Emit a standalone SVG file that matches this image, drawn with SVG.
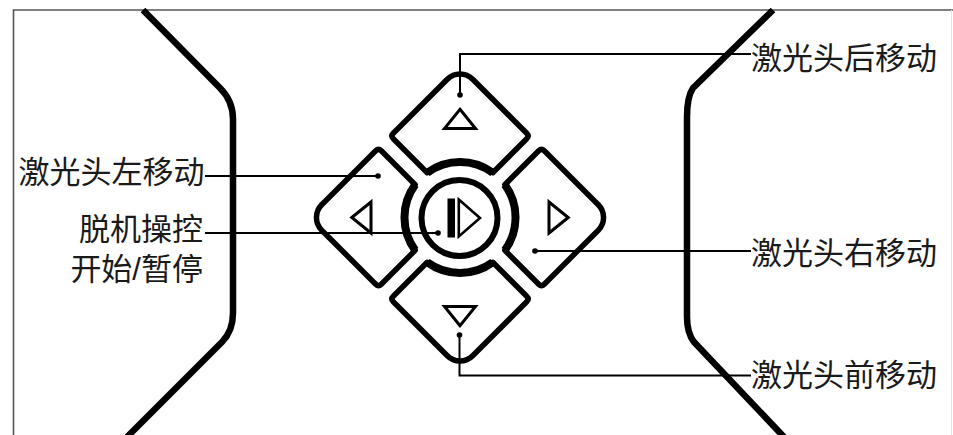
<svg xmlns="http://www.w3.org/2000/svg" width="953" height="435" viewBox="0 0 953 435">
<style>
.frame{fill:none;stroke:#555;stroke-width:1.6}
.body{fill:none;stroke:#000;stroke-width:6.5;stroke-linejoin:round}
.btn{fill:#fff;stroke:#000;stroke-width:5.5;stroke-linejoin:round}
.arrow{fill:none;stroke:#000;stroke-width:3;stroke-linejoin:miter}
.ring{fill:#fff;stroke:#000;stroke-width:6}
.lead{fill:none;stroke:#000;stroke-width:2}
.dot{fill:#000}
.lbl{font-family:"Liberation Sans","Noto Sans CJK SC",sans-serif;font-size:31px;fill:#1a1a1a}
</style>
<defs>
<g id="btnShape">
<path class="btn" d="M -32.8 -44.8 A 55.5 55.5 0 0 1 32.8 -44.8 L 66.7 -78.7 Q 69.5 -81.5 66.7 -84.3 L 12.7 -138.3 A 18 18 0 0 0 -12.7 -138.3 L -66.7 -84.3 Q -69.5 -81.5 -66.7 -78.7 Z"/>
<path fill="none" stroke="#000" stroke-width="8" d="M -32.8 -44.8 A 55.5 55.5 0 0 1 32.8 -44.8"/>
<path class="arrow" d="M 0 -108.2 L 15.5 -89 L -15.5 -89 Z"/>
</g>
</defs>
<rect width="953" height="435" fill="#fff"/>
<g id="frame">
<path class="frame" d="M13.5 435 V10 H953"/>
<path fill="none" stroke="#e3e3e3" stroke-width="1" d="M951.5 10 V435"/>
</g>
<g id="body-left"><path class="body" d="M143 10 L220 88 Q233 101 233 119 V313 Q233 331 222 342 L127 437"/></g>
<g id="body-right"><path class="body" d="M773 10 L693 88 Q687 97 687 117 V317 Q687 333 694 342 L784 437"/></g>
<g id="btn-up" transform="translate(460 217.5)"><use href="#btnShape"/></g>
<g id="btn-right" transform="translate(460 217.5) rotate(90)"><use href="#btnShape"/></g>
<g id="btn-down" transform="translate(460 217.5) rotate(180)"><use href="#btnShape"/></g>
<g id="btn-left" transform="translate(460 217.5) rotate(270)"><use href="#btnShape"/></g>
<g id="btn-center">
<circle class="ring" cx="459.5" cy="218" r="38"/>
<rect x="447.5" y="198.5" width="7.5" height="39" fill="#000"/>
<path fill="none" stroke="#000" stroke-width="2.6" stroke-linejoin="miter" d="M458.8 199.5 L480 218 L458.8 236.5 Z"/>
</g>
<g id="connectors">
<path class="lead" d="M460 95 V54 H751"/>
<circle class="dot" cx="460" cy="95" r="2.8"/>
<path class="lead" d="M205 176 H378"/>
<circle class="dot" cx="378" cy="176" r="2.8"/>
<path class="lead" d="M205 233 H438"/>
<circle class="dot" cx="438" cy="233" r="2.8"/>
<path class="lead" d="M535 251 H751"/>
<circle class="dot" cx="535" cy="251" r="2.8"/>
<path class="lead" d="M459.5 335 V375.5 H751"/>
<circle class="dot" cx="459.5" cy="335" r="2.8"/>
</g>
<g id="labels">
<text class="lbl" x="751" y="69">激光头后移动</text>
<text class="lbl" x="751" y="263.5">激光头右移动</text>
<text class="lbl" x="751" y="386">激光头前移动</text>
<text class="lbl" x="204.5" y="183" text-anchor="end">激光头左移动</text>
<text class="lbl" text-anchor="end"><tspan x="203" y="239.5">脱机操控</tspan><tspan x="203" y="279.5">开始/暂停</tspan></text>
</g>
</svg>
